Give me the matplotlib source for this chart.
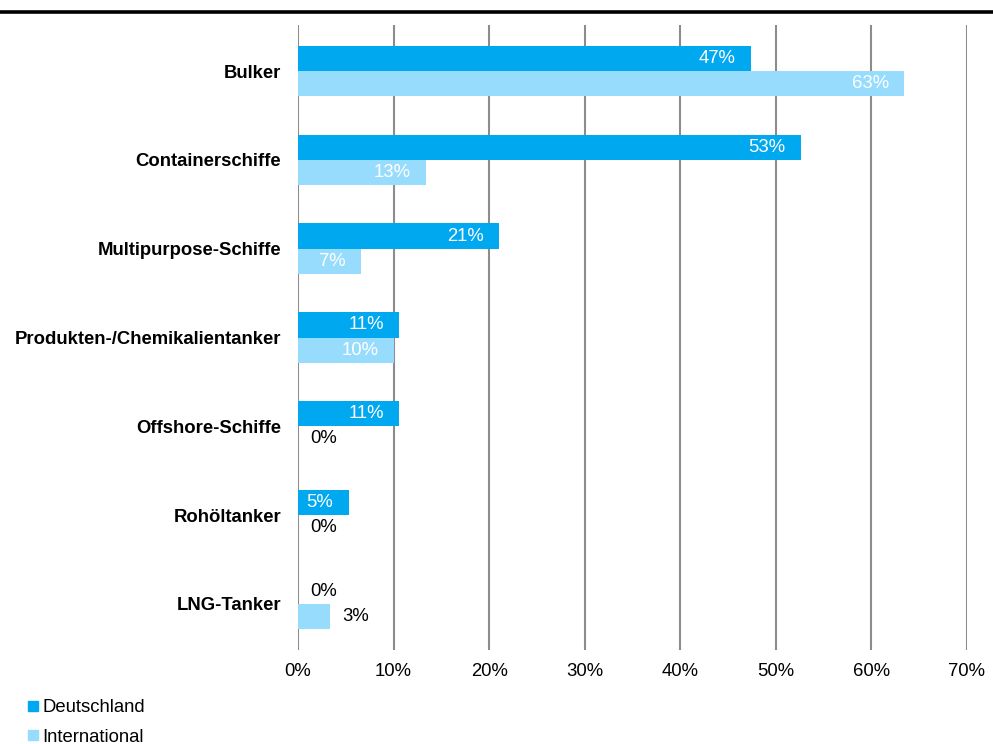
import matplotlib
matplotlib.use("Agg")
import matplotlib.pyplot as plt
from matplotlib.lines import Line2D
import numpy as np

plt.rcParams['font.family'] = ['Liberation Sans', 'DejaVu Sans']

# Anteil der Schiffstypen in den Portfolios
categories = ["Bulker", "Containerschiffe", "Multipurpose-Schiffe",
              "Produkten-/Chemikalientanker", "Offshore-Schiffe",
              "Rohöltanker", "LNG-Tanker"]
deutschland = [47.4, 52.6, 21.0, 10.6, 10.6, 5.3, 0.0]
international = [63.4, 13.4, 6.6, 10.0, 0.0, 0.0, 3.3]
series_names = ["Deutschland", "International"]
xticks = [0, 10, 20, 30, 40, 50, 60, 70]

col_de = "#00a8f0"
col_int = "#98dcfd"
fs = 13.3

fig = plt.figure(figsize=(9.93, 7.44), dpi=100)
ax = fig.add_axes([0.3001, 0.1263, 0.6737, 0.8401])

y = np.arange(len(categories))
h = 0.285
bars_de = ax.barh(y - h / 2, deutschland, height=h, color=col_de, zorder=3)
bars_int = ax.barh(y + h / 2, international, height=h, color=col_int, zorder=3)

# Werte an die Balken schreiben: innen weiss, bei kleinen Werten aussen schwarz
for bars, vals in [(bars_de, deutschland), (bars_int, international)]:
    for b, v in zip(bars, vals):
        yc = b.get_y() + b.get_height() / 2
        txt = f"{v:.0f}%"
        if v >= 5:
            ax.annotate(txt, (v, yc), xytext=(-11, 0), textcoords="offset points",
                        ha="right", va="center", color="white", fontsize=fs, zorder=4)
        else:
            ax.annotate(txt, (v, yc), xytext=(9, 0), textcoords="offset points",
                        ha="left", va="center", color="black", fontsize=fs, zorder=4)

ax.set_xlim(0, 70)
ax.set_ylim(len(categories) - 0.48, -0.52)
ax.set_xticks(xticks)
ax.set_xticklabels([f"{t}%" for t in xticks], fontsize=fs)
ax.set_yticks(y)
ax.set_yticklabels(categories, fontsize=fs, fontweight="bold")
ax.tick_params(axis="both", length=0)
ax.tick_params(axis="y", pad=12)
ax.tick_params(axis="x", pad=9)
for s in ax.spines.values():
    s.set_visible(False)
ax.grid(axis="x", color="#8c8c8c", linewidth=1.5, zorder=0)
ax.grid(axis="y", visible=False)

# dicke Linie oben
fig.add_artist(Line2D([0, 1], [0.9845, 0.9845], transform=fig.transFigure,
                      color="black", linewidth=2.6))

handles = [Line2D([], [], marker="s", linestyle="none", markersize=7,
                  markerfacecolor=c, markeredgecolor=c) for c in (col_de, col_int)]
fig.legend(handles, series_names, loc="lower left", bbox_to_anchor=(0.013, -0.017),
           frameon=False, fontsize=fs, handletextpad=0.0, labelspacing=0.68,
           handlelength=1.0, borderaxespad=0.2)

fig.savefig("out.png", dpi=100)
